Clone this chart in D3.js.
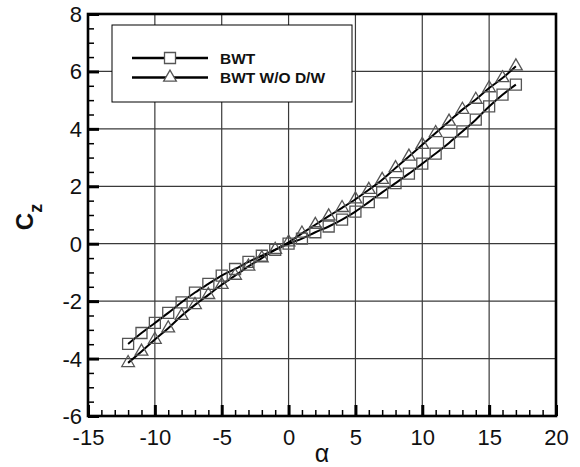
<!DOCTYPE html>
<html>
<head>
<meta charset="utf-8">
<script src="https://cdn.jsdelivr.net/npm/d3@7"></script>
<style>
  body { margin: 0; background: #fff; }
  text { font-family: Arial, "Liberation Sans", sans-serif; }
</style>
</head>
<body>
<div class="chart"></div>
<script>
// angle of attack (deg)
var alpha = [-12, -11, -10, -9, -8, -7, -6, -5, -4, -3, -2, -1, 0, 1, 2, 3, 4, 5,
  6, 7, 8, 9, 10, 11, 12, 13, 14, 15, 16, 17];

// Cz, BWT (squares)
var czBwt = [-3.49, -3.11, -2.76, -2.41, -2.04, -1.70, -1.40, -1.11, -0.88, -0.63, -0.42, -0.21,
  0.0, 0.18, 0.40, 0.60, 0.84, 1.12, 1.45, 1.79, 2.11, 2.44, 2.79, 3.14, 3.51, 3.91, 4.32, 4.78, 5.19, 5.54];

// Cz, BWT W/O D/W (triangles)
var czNoDw = [-4.15, -3.75, -3.34, -2.94, -2.51, -2.13, -1.78, -1.43, -1.11, -0.79, -0.50, -0.21,
  0.05, 0.36, 0.66, 0.96, 1.25, 1.55, 1.88, 2.23, 2.64, 3.04, 3.45, 3.86, 4.26, 4.67, 5.02, 5.42, 5.77, 6.18];

var xTicks = [-15, -10, -5, 0, 5, 10, 15, 20];
var yTicks = [-6, -4, -2, 0, 2, 4, 6, 8];
var legendLabels = ["BWT", "BWT W/O D/W"];

var svgWidth = 580;
var svgHeight = 467;
var margin = { top: 14, right: 24, bottom: 51, left: 88 };
var width = svgWidth - margin.left - margin.right;
var height = svgHeight - margin.top - margin.bottom;

var svg = d3.select(".chart")
  .append("svg")
  .attr("width", svgWidth)
  .attr("height", svgHeight);

var chartGroup = svg.append("g")
  .attr("transform", `translate(${margin.left}, ${margin.top})`);

var x = d3.scaleLinear().domain([-15, 20]).range([0, width]);
var y = d3.scaleLinear().domain([-6, 8]).range([height, 0]);

// grid lines
chartGroup.append("g")
  .selectAll("line")
  .data(xTicks.slice(1, -1))
  .enter()
  .append("line")
  .attr("x1", d => x(d)).attr("x2", d => x(d))
  .attr("y1", 0).attr("y2", height)
  .attr("stroke", "#3a3a3a")
  .attr("stroke-width", 1.2);

chartGroup.append("g")
  .selectAll("line")
  .data(yTicks.slice(1, -1))
  .enter()
  .append("line")
  .attr("x1", 0).attr("x2", width)
  .attr("y1", d => y(d)).attr("y2", d => y(d))
  .attr("stroke", "#3a3a3a")
  .attr("stroke-width", 1.2);

// minor ticks (inside)
var xMinor = d3.range(-15, 20.01, 1);
var yMinor = d3.range(-6, 8.01, 0.5);

var xAxisMinor = d3.axisTop(x).tickValues(xMinor).tickSize(6).tickFormat("");
var yAxisMinor = d3.axisRight(y).tickValues(yMinor).tickSize(6).tickFormat("");

chartGroup.append("g")
  .attr("transform", `translate(0, ${height})`)
  .call(xAxisMinor)
  .call(g => g.select(".domain").remove())
  .call(g => g.selectAll("line").attr("stroke-width", 1.5));

chartGroup.append("g")
  .call(yAxisMinor)
  .call(g => g.select(".domain").remove())
  .call(g => g.selectAll("line").attr("stroke-width", 1.5));

// major ticks + labels
var xAxis = d3.axisTop(x).tickValues(xTicks).tickSize(11).tickFormat(d3.format("d"));
var yAxis = d3.axisRight(y).tickValues(yTicks).tickSize(11).tickFormat(d3.format("d"));

chartGroup.append("g")
  .attr("transform", `translate(0, ${height})`)
  .call(xAxis)
  .call(g => g.select(".domain").remove())
  .call(g => g.selectAll("line").attr("stroke-width", 3))
  .call(g => g.selectAll("text")
    .attr("y", 22)
    .attr("dy", "0.32em")
    .attr("font-size", 22)
    .attr("fill", "#111")
    .text(d => d < 0 ? "-" + Math.abs(d) : d));

chartGroup.append("g")
  .call(yAxis)
  .call(g => g.select(".domain").remove())
  .call(g => g.selectAll("line").attr("stroke-width", 3))
  .call(g => g.selectAll("text")
    .attr("x", -6)
    .attr("text-anchor", "end")
    .attr("dy", "0.34em")
    .attr("font-size", 22)
    .attr("fill", "#111")
    .text(d => d < 0 ? "-" + Math.abs(d) : d));

// frame
chartGroup.append("rect")
  .attr("x", 0).attr("y", 0)
  .attr("width", width).attr("height", height)
  .attr("fill", "none")
  .attr("stroke", "#000")
  .attr("stroke-width", 2.6);

// curves
var series = [
  { values: czBwt, marker: "square" },
  { values: czNoDw, marker: "triangle" }
];

var line = d3.line()
  .x((d, i) => x(alpha[i]))
  .y(d => y(d))
  .curve(d3.curveMonotoneX);

series.forEach(function(s) {
  chartGroup.append("path")
    .datum(s.values)
    .attr("d", line)
    .attr("fill", "none")
    .attr("stroke", "#000")
    .attr("stroke-width", 2);
});

var squareSym = d3.symbol().type(d3.symbolSquare).size(121);
var triSym = d3.symbol().type(d3.symbolTriangle).size(70);

series.forEach(function(s) {
  chartGroup.append("g")
    .selectAll("path")
    .data(s.values)
    .enter()
    .append("path")
    .attr("transform", (d, i) => `translate(${x(alpha[i])}, ${y(d)})`)
    .attr("d", s.marker === "square" ? squareSym : triSym)
    .attr("fill", "none")
    .attr("stroke", "#555")
    .attr("stroke-width", 1.3);
});

// legend
var legend = svg.append("g").attr("transform", "translate(112, 25)");

legend.append("rect")
  .attr("width", 240).attr("height", 77)
  .attr("fill", "#fff")
  .attr("stroke", "#000")
  .attr("stroke-width", 1);

legendLabels.forEach(function(label, i) {
  var ly = 33 + i * 19.5;
  legend.append("line")
    .attr("x1", 20).attr("x2", 96)
    .attr("y1", ly).attr("y2", ly)
    .attr("stroke", "#000")
    .attr("stroke-width", 2.5);
  legend.append("path")
    .attr("transform", `translate(58, ${ly})`)
    .attr("d", i === 0 ? squareSym : triSym)
    .attr("fill", "#fff")
    .attr("stroke", "#555")
    .attr("stroke-width", 1.3);
  legend.append("text")
    .attr("x", 108)
    .attr("y", ly + 5.5)
    .attr("font-size", 15.5)
    .attr("font-weight", "bold")
    .attr("fill", "#111")
    .text(label);
});

// axis titles
var yTitle = svg.append("text")
  .attr("transform", "translate(33, 217) rotate(-90)")
  .attr("text-anchor", "middle")
  .attr("font-size", 24)
  .attr("font-weight", "bold")
  .attr("fill", "#111");
yTitle.append("tspan").text("C");
yTitle.append("tspan").attr("font-size", 18).attr("dy", 9).text("z");

svg.append("text")
  .attr("x", margin.left + width / 2)
  .attr("y", 462)
  .attr("text-anchor", "middle")
  .attr("font-family", "'Liberation Serif', 'DejaVu Serif', serif")
  .attr("font-size", 25)
  .attr("fill", "#111")
  .text("α");
</script>
</body>
</html>
